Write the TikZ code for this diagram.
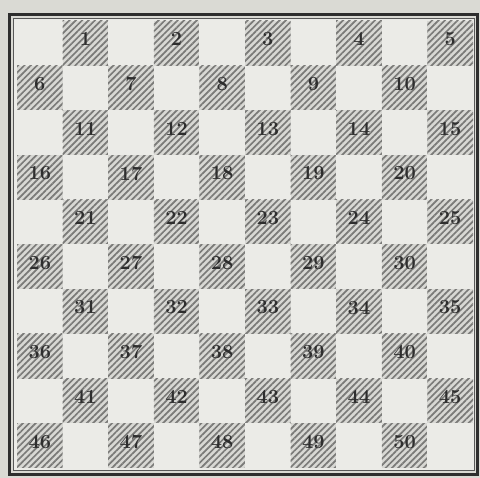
\documentclass[tikz,border=0pt]{standalone}
\usetikzlibrary{patterns.meta}
\definecolor{paper}{HTML}{DADAD4}
\definecolor{lightsq}{HTML}{EBEBE7}
\definecolor{darksq}{HTML}{D8D8D4}
\definecolor{hatch}{HTML}{7A7A78}
\definecolor{ink}{HTML}{2E2E2E}
\tikzset{
  whitesq/.style={fill=lightsq},
  blacksq/.style={fill=darksq, postaction={pattern={Lines[angle=45,distance=4.5pt,line width=1.7pt]}, pattern color=hatch}},
  num/.style={text=ink, font=\fontsize{20}{20}\selectfont\bfseries, inner sep=0pt}
}
\begin{document}
\begin{tikzpicture}[x=1pt,y=-1pt]
  \useasboundingbox (0,0) rectangle (480,478);
  \fill[paper] (0,0) rectangle (480,478);
  % frame
  \draw[line width=3pt, ink] (9,15) rectangle (477,475);
  \fill[lightsq] (13.5,19) rectangle (474.5,470.5);
  \draw[line width=1pt, ink!80] (13.5,19) rectangle (474.5,470.5);
  % squares
  \foreach \r in {0,...,9}
    \foreach \c in {0,...,9} {
      \pgfmathtruncatemacro{\odd}{mod(\r+\c,2)}
      \pgfmathtruncatemacro{\n}{5*\r+int(\c/2)+1}
      \ifnum\odd=1
        \path[blacksq] ({17+45.6*\c},{21+44.7*\r}) rectangle ({17+45.6*(\c+1)},{21+44.7*(\r+1)});
        \node[num] (n\n) at ({17+45.6*(\c+0.5)},{21+44.7*(\r+0.5)-4}) {\n};
      \else
        \path[whitesq] ({17+45.6*\c},{21+44.7*\r}) rectangle ({17+45.6*(\c+1)},{21+44.7*(\r+1)});
      \fi
    }
\end{tikzpicture}
\end{document}
